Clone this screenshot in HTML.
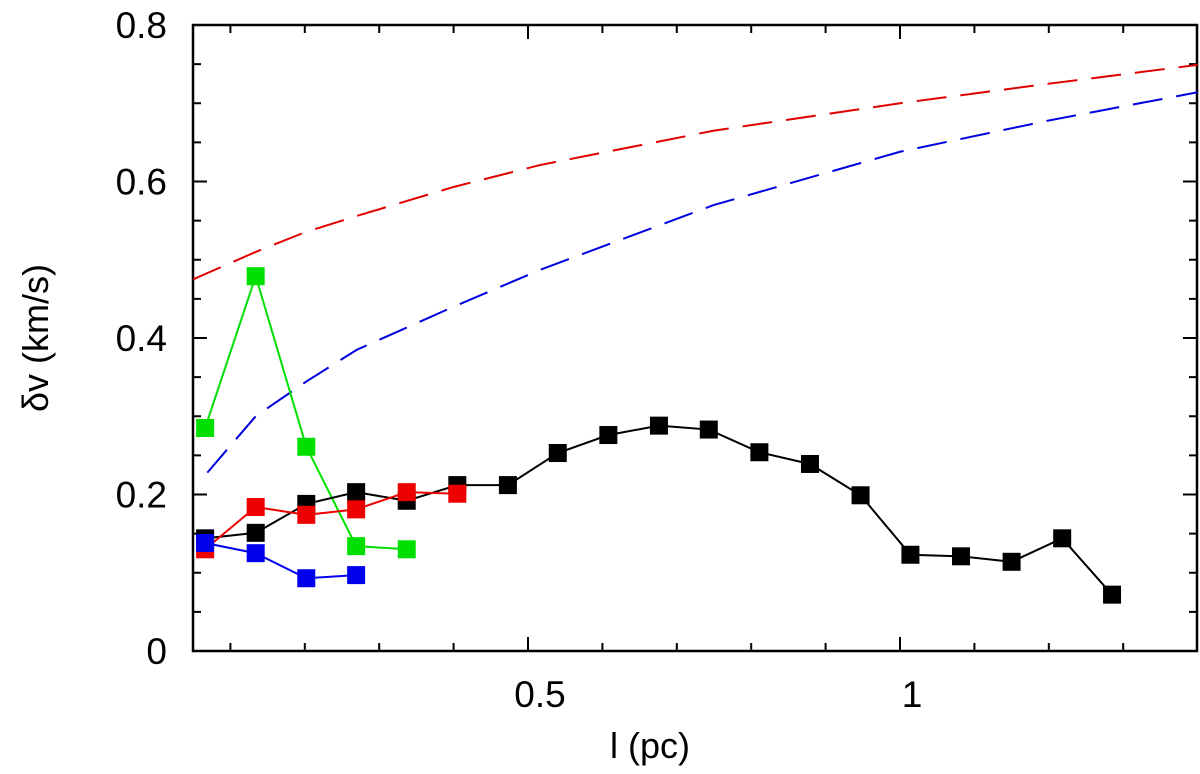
<!DOCTYPE html>
<html><head><meta charset="utf-8"><style>
body{margin:0;background:#fff}
svg text{font-family:"Liberation Sans",sans-serif;fill:#000}
</style></head><body>
<svg id="chart" width="1200" height="769" viewBox="0 0 1200 769" xmlns="http://www.w3.org/2000/svg">
<g id="axes"></g><g id="series"></g>
<text x="650" y="758" font-size="36" text-anchor="middle">l (pc)</text>
<text transform="translate(48,338) rotate(-90)" font-size="36" text-anchor="middle">δv (km/s)</text>
</svg>
<script>
const blackX=[0.066,0.134,0.202,0.269,0.337,0.405,0.473,0.540,0.608,0.676,0.743,0.811,0.879,0.947,1.014,1.082,1.150,1.218,1.285];
const blackY=[0.144,0.151,0.188,0.203,0.192,0.212,0.212,0.253,0.276,0.288,0.283,0.254,0.239,0.199,0.123,0.121,0.114,0.144,0.072];
const redX=[0.066,0.134,0.202,0.269,0.337,0.405];
const redY=[0.130,0.184,0.174,0.181,0.203,0.201];
const greenX=[0.066,0.134,0.202,0.269,0.337];
const greenY=[0.285,0.479,0.261,0.134,0.130];
const blueX=[0.066,0.134,0.202,0.269];
const blueY=[0.138,0.125,0.093,0.097];
const redDashX=[0.05,0.134,0.20,0.27,0.40,0.516,0.75,1.0,1.2,1.40];
const redDashY=[0.475,0.51,0.535,0.556,0.593,0.621,0.665,0.70,0.725,0.749];
const blueDashX=[0.069,0.134,0.203,0.27,0.40,0.516,0.75,1.0,1.2,1.40];
const blueDashY=[0.228,0.30,0.345,0.385,0.44,0.487,0.57,0.638,0.678,0.714];
const yTicks=[0,0.2,0.4,0.6,0.8];
const yTickLabels=["0","0.2","0.4","0.6","0.8"];
const xTicks=[0.5,1];
const xTickLabels=["0.5","1"];

const L=193,R=1197,T=25,B=651;
const sx=v=>156+v*744;
const sy=v=>B-v*782.5;
const NS="http://www.w3.org/2000/svg";
function mk(tag,attrs,parent){const e=document.createElementNS(NS,tag);for(const k in attrs)e.setAttribute(k,attrs[k]);parent.appendChild(e);return e;}
const ax=document.getElementById('axes'),sr=document.getElementById('series');
const frame=mk('rect',{x:L,y:T,width:R-L,height:B-T,fill:'none',stroke:'#000','stroke-width':2.5},ax);


for(let i=0;i<=16;i++){const v=i*0.05,y=sy(v),len=(i%4===0)?14:8;
 mk('line',{x1:L,x2:L+len,y1:y,y2:y,stroke:'#000','stroke-width':2},ax);
 mk('line',{x1:R,x2:R-len,y1:y,y2:y,stroke:'#000','stroke-width':2},ax);}
for(let i=1;i<=13;i++){const v=i*0.1,x=sx(v),len=(i%5===0)?14:8;
 mk('line',{x1:x,x2:x,y1:B,y2:B-len,stroke:'#000','stroke-width':2},ax);
 mk('line',{x1:x,x2:x,y1:T,y2:T+len,stroke:'#000','stroke-width':2},ax);}
yTicks.forEach((v,i)=>{const t=mk('text',{x:L-26,y:sy(v)+13,'font-size':37,'text-anchor':'end'},ax);t.textContent=yTickLabels[i];
 
 });
xTicks.forEach((v,i)=>{const t=mk('text',{x:sx(v)+12,y:707,'font-size':37,'text-anchor':'middle'},ax);t.textContent=xTickLabels[i];
 
 });
function dashed(xs,ys,color,name){const p=mk('polyline',{points:xs.map((x,i)=>sx(x)+','+sy(ys[i])).join(' '),fill:'none',stroke:color,'stroke-width':2,'stroke-dasharray':'30 14'},sr);
 
 }
dashed(redDashX,redDashY,'#e00000','red-dashed-model');
dashed(blueDashX,blueDashY,'#0000e0','blue-dashed-model');
function series(xs,ys,color,name){const p=mk('polyline',{points:xs.map((x,i)=>sx(x)+','+sy(ys[i])).join(' '),fill:'none',stroke:color,'stroke-width':2},sr);
 
 
 xs.forEach((x,i)=>{const r=mk('rect',{x:sx(x)-9,y:sy(ys[i])-9,width:18,height:18,fill:color},sr);
  
  });}
series(greenX,greenY,'#00e000','green-series');
series(blackX,blackY,'#000000','black-series');
series(redX,redY,'#ee0000','red-series');
series(blueX,blueY,'#0000ee','blue-series');
</script>
</body></html>
